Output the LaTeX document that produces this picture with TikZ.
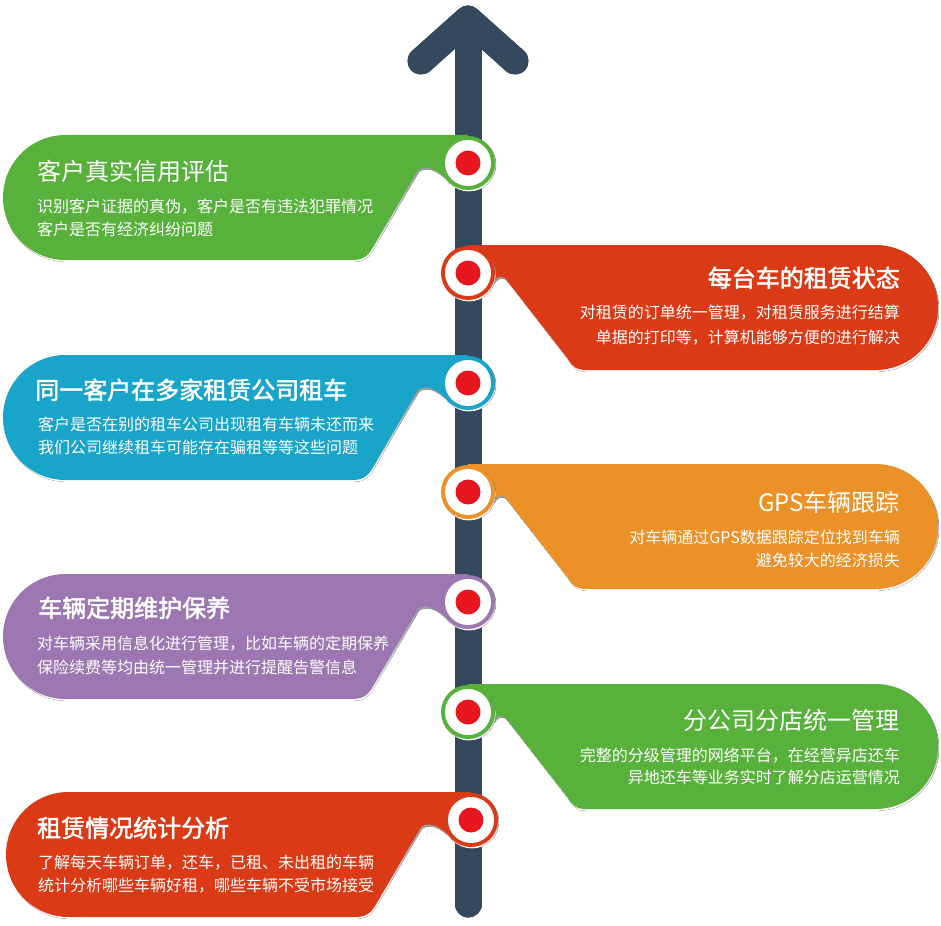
\documentclass[tikz,border=0pt]{standalone}
\usepackage{fontspec}
\setmainfont{Noto Sans CJK SC}
\newfontfamily\titlebold[FakeBold=2]{Noto Sans CJK SC}
\definecolor{axiscol}{HTML}{34485E}
\definecolor{cgreen}{HTML}{57B13B}
\definecolor{cred}{HTML}{DA3A15}
\definecolor{cblue}{HTML}{18A5C9}
\definecolor{corange}{HTML}{EC9127}
\definecolor{cpurple}{HTML}{9C77B1}
\definecolor{dotred}{HTML}{E8171F}
\definecolor{shade}{HTML}{3A3A3A}
\tikzset{
  ttl/.style={text=white, inner sep=0pt, font=\fontsize{24}{28}\selectfont},
  ttlb/.style={text=white, inner sep=0pt, font=\titlebold\fontsize{24}{28}\selectfont},
  sub/.style={text=white, inner sep=0pt, font=\fontsize{16}{20}\selectfont},
  axisline/.style={line width=27pt, line cap=round, line join=round, color=axiscol},
}
% left-hand tab body, relative to circle centre
\newcommand\lbody[1]{\fill[#1] (-402.5,-28) -- (0,-28) -- (0,0) -- (-19,19)
  .. controls (-30,6) and (-42,1) .. (-50,7) -- (-96,86)
  .. controls (-101,94) and (-106,97) .. (-116,97) -- (-402.5,97)
  arc[start angle=90, end angle=270, radius=62.5] -- cycle;}
% right-hand tab body
\newcommand\rbody[1]{\fill[#1] (0,-28) -- (407.5,-28)
  arc[start angle=-90, end angle=90, radius=62.5] -- (118,97)
  .. controls (108,97) and (104,93) .. (100,86) -- (38,6)
  .. controls (33,1) and (27,3) .. (21,17) -- (0,0) -- cycle;}
\newcommand\knob[1]{%
  \fill[shade] (1,1.5) circle[radius=27];
  \fill[#1] (0,0) circle[radius=27];
  \fill[white] (0,0) circle[radius=23];
  \fill[dotred] (0,0) circle[radius=12.5];}
\newcommand\lcall[3]{\begin{scope}[shift={(#1,#2)}]
  \lbody{shade, shift={(1,1.8)}}\lbody{#3}\knob{#3}\end{scope}}
\newcommand\rcall[3]{\begin{scope}[shift={(#1,#2)}]
  \rbody{shade, shift={(1,1.8)}}\rbody{#3}\knob{#3}\end{scope}}
\begin{document}
\begin{tikzpicture}[x=1pt, y=-1pt]
\useasboundingbox (0,0) rectangle (941,925);
\fill[white] (0,0) rectangle (941,925);
% axis arrow
\coordinate (abot) at (468,904);
\coordinate (atop) at (468,40);
\coordinate (tip) at (468,19);
\coordinate (armL) at (421,61);
\coordinate (armR) at (515,61);
\draw[axisline, color=shade, shift={(1.5,1)}] (atop) -- (abot);
\draw[axisline, color=shade, shift={(1.5,1)}] (armL) -- (tip) -- (armR);
\draw[axisline] (atop) -- (abot);
\draw[axisline] (armL) -- (tip) -- (armR);
% tabs
\lcall{468}{163}{cgreen}
\rcall{468}{273}{cred}
\lcall{468}{383}{cblue}
\rcall{468}{492}{corange}
\lcall{468}{602}{cpurple}
\rcall{468}{712}{cgreen}
\lcall{471}{820}{cred}
% texts
\node[ttl, anchor=base west] (t1) at (37,181) {客户真实信用评估};
\node[sub, anchor=base west] (s1a) at (37,213) {识别客户证据的真伪，客户是否有违法犯罪情况};
\node[sub, anchor=base west] (s1b) at (37,236) {客户是否有经济纠纷问题};

\node[ttlb, anchor=base east] (t2) at (900,287) {每台车的租赁状态};
\node[sub, anchor=base east] (s2a) at (900,318) {对租赁的订单统一管理，对租赁服务进行结算};
\node[sub, anchor=base east] (s2b) at (900,343) {单据的打印等，计算机能够方便的进行解决};

\node[ttlb, anchor=base west] (t3) at (35,399) {同一客户在多家租赁公司租车};
\node[sub, anchor=base west] (s3a) at (38,430) {客户是否在别的租车公司出现租有车辆未还而来};
\node[sub, anchor=base west] (s3b) at (38,453) {我们公司继续租车可能存在骗租等等这些问题};

\node[ttl, anchor=base east] (t4) at (900,511) {GPS车辆跟踪};
\node[sub, anchor=base east] (s4a) at (900,543) {对车辆通过GPS数据跟踪定位找到车辆};
\node[sub, anchor=base east] (s4b) at (900,566) {避免较大的经济损失};

\node[ttlb, anchor=base west] (t5) at (38,617) {车辆定期维护保养};
\node[sub, anchor=base west] (s5a) at (37,649) {对车辆采用信息化进行管理，比如车辆的定期保养};
\node[sub, anchor=base west] (s5b) at (37,673) {保险续费等均由统一管理并进行提醒告警信息};

\node[ttl, anchor=base east] (t6) at (900,729) {分公司分店统一管理};
\node[sub, anchor=base east] (s6a) at (900,761) {完整的分级管理的网络平台，在经营异店还车};
\node[sub, anchor=base east] (s6b) at (900,783) {异地还车等业务实时了解分店运营情况};

\node[ttlb, anchor=base west] (t7) at (37,837) {租赁情况统计分析};
\node[sub, anchor=base west] (s7a) at (38,868) {了解每天车辆订单，还车，已租、未出租的车辆};
\node[sub, anchor=base west] (s7b) at (38,891) {统计分析哪些车辆好租，哪些车辆不受市场接受};
\end{tikzpicture}
\end{document}
